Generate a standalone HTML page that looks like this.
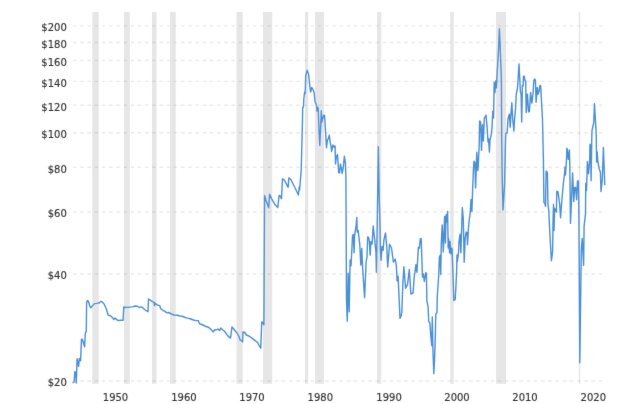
<!DOCTYPE html><html><head><meta charset="utf-8"><title>Crude Oil Prices</title><style>html,body{margin:0;padding:0;background:#fff;}body{width:640px;height:404px;overflow:hidden;}svg{display:block;}text{font-family:"DejaVu Sans","Liberation Sans",sans-serif;font-size:10px;fill:#333;stroke:#333;stroke-width:0.15px;}</style></head><body>
<svg width="640" height="404" viewBox="0 0 640 404">
<rect x="0" y="0" width="640" height="404" fill="#fff"/>
<defs><filter id="soft" x="0" y="0" width="640" height="404" filterUnits="userSpaceOnUse"><feConvolveMatrix order="3" kernelMatrix="0.00524 0.06192 0.00524 0.06192 0.73137 0.06192 0.00524 0.06192 0.00524" edgeMode="duplicate"/></filter></defs>
<g filter="url(#soft)">
<g fill="#e6e6e6">
<rect x="92.25" y="12.00" width="6.50" height="371.80"/>
<rect x="124.00" y="12.00" width="5.80" height="371.80"/>
<rect x="152.00" y="12.00" width="4.50" height="371.80"/>
<rect x="170.00" y="12.00" width="5.75" height="371.80"/>
<rect x="236.50" y="12.00" width="6.25" height="371.80"/>
<rect x="263.00" y="12.00" width="9.25" height="371.80"/>
<rect x="305.00" y="12.00" width="3.25" height="371.80"/>
<rect x="315.00" y="12.00" width="9.00" height="371.80"/>
<rect x="377.00" y="12.00" width="4.30" height="371.80"/>
<rect x="450.20" y="12.00" width="3.60" height="371.80"/>
<rect x="496.00" y="12.00" width="10.00" height="371.80"/>
<rect x="578.80" y="12.00" width="1.40" height="371.80"/>
</g>
<g stroke="#000" stroke-opacity="0.085" stroke-width="1.4" stroke-dasharray="3.4 3.8" fill="none">
<line x1="73.1" y1="25.90" x2="603" y2="25.90"/>
<line x1="73.1" y1="42.50" x2="603" y2="42.50"/>
<line x1="73.1" y1="60.40" x2="603" y2="60.40"/>
<line x1="73.1" y1="81.40" x2="603" y2="81.40"/>
<line x1="73.1" y1="105.30" x2="603" y2="105.30"/>
<line x1="73.1" y1="132.80" x2="603" y2="132.80"/>
<line x1="73.1" y1="167.30" x2="603" y2="167.30"/>
<line x1="73.1" y1="212.00" x2="603" y2="212.00"/>
<line x1="73.1" y1="274.00" x2="603" y2="274.00"/>
<line x1="73.1" y1="381.00" x2="603" y2="381.00"/>
</g>
<g text-anchor="end">
<text x="66.80" y="31">$200</text>
<text x="66.80" y="48">$180</text>
<text x="66.80" y="66">$160</text>
<text x="66.80" y="87">$140</text>
<text x="66.80" y="111">$120</text>
<text x="66.80" y="138">$100</text>
<text x="66.80" y="173">$80</text>
<text x="66.80" y="217">$60</text>
<text x="66.80" y="279">$40</text>
<text x="66.80" y="386">$20</text>
</g>
<g text-anchor="middle">
<text x="115.50" y="401.00">1950</text>
<text x="183.90" y="401.00">1960</text>
<text x="252.00" y="401.00">1970</text>
<text x="320.30" y="401.00">1980</text>
<text x="389.10" y="401.00">1990</text>
<text x="457.00" y="401.00">2000</text>
<text x="525.00" y="401.00">2010</text>
<text x="593.30" y="401.00">2020</text>
</g>
<path d="M73.10 382.60 L74.20 381.80 L74.80 371.80 L75.70 372.20 L76.30 383.00 L77.10 358.70 L78.60 366.30 L79.40 358.50 L80.60 360.80 L81.50 339.10 L82.40 339.40 L84.60 346.90 L85.30 333.10 L86.30 331.30 L86.60 302.40 L87.50 300.50 L88.40 301.50 L90.00 306.75 L91.00 307.75 L92.25 306.10 L94.40 303.60 L96.90 303.40 L99.40 302.75 L100.60 301.40 L102.25 302.00 L104.40 304.40 L106.25 308.75 L108.10 315.00 L110.00 315.60 L111.90 316.90 L113.75 319.40 L115.00 318.10 L118.10 320.60 L120.60 320.25 L123.10 320.40 L123.75 306.90 L125.00 307.50 L130.00 307.10 L132.50 306.90 L135.00 306.00 L137.50 306.25 L139.40 307.50 L141.90 306.90 L143.75 308.75 L145.60 310.25 L148.00 311.70 L148.50 299.00 L151.00 300.60 L152.90 301.90 L154.10 302.50 L154.50 305.60 L155.00 303.10 L157.25 305.00 L159.75 305.60 L160.75 308.75 L163.50 310.60 L167.25 312.90 L168.50 312.50 L171.00 313.75 L174.10 315.00 L177.25 315.25 L179.75 316.00 L182.25 316.25 L184.75 317.25 L187.25 318.10 L190.40 318.75 L193.50 320.00 L196.00 320.60 L198.25 320.60 L199.50 323.75 L202.25 324.75 L206.00 326.50 L208.50 327.25 L211.00 329.40 L213.25 331.90 L214.50 330.00 L216.60 329.75 L217.90 329.00 L219.50 330.60 L220.75 328.10 L222.90 330.00 L224.50 331.25 L227.60 335.60 L230.50 338.10 L232.00 326.90 L234.50 330.00 L237.00 333.10 L238.90 336.25 L240.10 340.00 L241.40 340.60 L242.60 341.90 L243.00 331.90 L244.50 332.25 L246.40 335.00 L248.90 336.00 L252.00 338.10 L255.10 340.60 L257.60 342.50 L259.50 346.25 L260.75 348.10 L261.75 321.90 L262.60 322.50 L263.90 325.00 L264.60 195.50 L265.90 199.90 L268.70 207.80 L269.60 194.30 L271.80 199.10 L275.00 204.60 L277.80 207.40 L279.00 195.90 L279.80 195.50 L281.50 198.70 L282.50 178.70 L284.50 180.30 L288.10 187.40 L288.90 177.90 L290.90 179.50 L293.20 184.30 L295.60 189.00 L298.40 195.00 L299.20 187.00 L299.60 189.80 L301.20 170.00 L302.50 120.00 L302.70 107.80 L303.40 107.00 L303.90 98.30 L304.70 92.00 L305.20 93.50 L305.70 76.00 L307.10 70.30 L308.10 72.70 L308.70 75.10 L309.80 86.10 L310.60 92.00 L311.80 87.50 L313.00 89.40 L314.20 92.75 L315.00 101.50 L316.20 104.60 L316.80 106.80 L317.00 111.00 L317.50 107.80 L318.20 107.80 L318.70 122.80 L319.75 145.40 L320.90 122.40 L321.30 110.60 L321.75 122.30 L322.50 119.50 L323.60 115.30 L324.60 115.75 L325.30 127.90 L326.50 147.70 L327.30 140.60 L328.10 139.00 L329.30 135.10 L330.10 142.20 L331.20 147.00 L331.50 151.50 L333.00 145.00 L334.20 147.20 L335.10 146.00 L335.50 164.00 L336.30 156.90 L337.50 154.50 L338.70 172.70 L339.60 172.70 L340.40 164.00 L341.50 168.80 L342.20 173.50 L343.30 167.20 L344.40 156.10 L345.40 163.20 L345.90 177.00 L346.50 300.00 L347.30 321.20 L348.20 273.30 L349.20 311.80 L350.10 260.00 L351.00 265.80 L352.60 235.30 L353.40 234.50 L354.10 252.70 L354.60 235.30 L356.20 225.00 L356.80 217.40 L357.20 232.10 L358.20 230.50 L359.80 244.80 L360.80 265.00 L361.75 248.40 L362.50 266.00 L364.60 297.70 L366.10 262.00 L367.00 256.70 L367.70 236.90 L368.50 237.30 L369.30 240.80 L370.20 255.10 L370.90 241.60 L372.10 244.00 L373.20 226.00 L374.80 240.80 L376.00 252.70 L376.40 272.30 L377.20 225.00 L378.35 146.80 L379.20 196.00 L380.00 225.00 L380.40 251.10 L381.10 260.20 L382.00 246.40 L383.10 250.40 L383.90 240.00 L385.50 232.90 L386.80 247.00 L387.70 267.00 L389.60 244.20 L391.50 248.00 L393.40 262.10 L395.20 259.20 L396.40 266.00 L397.10 280.80 L398.10 276.10 L400.00 318.40 L400.90 316.50 L401.80 312.80 L402.80 284.60 L403.90 266.70 L405.60 288.30 L407.50 284.60 L409.30 269.50 L410.90 294.00 L413.10 293.00 L414.10 278.00 L415.90 264.80 L416.90 272.30 L418.40 247.20 L419.40 248.10 L420.30 238.80 L421.20 238.80 L421.70 254.50 L422.50 277.00 L423.40 274.00 L424.30 281.50 L425.80 272.40 L426.40 274.00 L426.90 301.00 L428.10 307.20 L428.70 321.10 L429.90 323.10 L430.80 335.70 L431.80 345.60 L432.30 316.90 L432.80 346.00 L433.80 373.60 L434.50 360.20 L435.20 340.00 L435.80 314.00 L437.00 312.40 L437.30 296.20 L438.70 275.50 L439.40 257.00 L440.20 255.20 L440.70 274.50 L441.30 243.00 L442.20 225.00 L443.30 251.90 L444.60 216.50 L445.40 243.10 L446.00 215.30 L446.60 214.50 L446.90 222.00 L447.60 211.50 L448.20 248.00 L448.70 238.70 L449.60 252.80 L450.10 241.50 L451.00 253.80 L452.00 248.10 L452.90 271.60 L453.80 300.50 L455.20 299.50 L455.90 286.80 L456.60 272.70 L457.00 255.00 L457.40 261.30 L458.60 251.90 L459.00 241.50 L460.00 234.30 L460.90 252.80 L462.30 207.50 L463.30 218.80 L464.20 262.20 L465.20 237.80 L466.10 232.00 L467.00 232.50 L467.50 244.80 L468.50 227.30 L469.40 218.80 L470.30 211.80 L471.00 199.50 L471.90 211.50 L472.60 190.00 L473.50 168.00 L474.00 161.20 L474.90 162.60 L475.60 188.00 L476.80 152.20 L477.80 170.50 L478.20 166.30 L479.20 144.70 L479.60 120.90 L480.60 121.90 L481.50 150.30 L482.50 124.70 L483.40 141.00 L484.30 118.50 L486.00 115.10 L487.10 127.10 L488.00 142.00 L488.60 139.00 L489.40 152.10 L490.00 139.60 L491.10 135.60 L492.00 128.00 L492.80 111.10 L493.50 118.10 L494.20 82.30 L495.00 92.60 L495.80 80.80 L496.40 87.90 L497.00 76.00 L498.60 48.00 L499.40 28.80 L500.20 48.00 L501.40 80.00 L501.70 141.60 L502.20 177.60 L503.00 210.00 L504.50 186.00 L505.50 141.60 L505.80 133.40 L507.10 132.90 L508.00 118.80 L509.40 114.10 L510.20 127.30 L510.80 116.90 L511.80 102.80 L512.70 118.80 L513.90 131.00 L514.60 118.80 L515.50 109.40 L516.30 94.00 L517.50 88.00 L519.00 64.00 L520.40 91.50 L521.10 94.30 L521.70 122.00 L522.40 85.50 L523.10 86.00 L523.50 76.30 L524.30 76.30 L525.10 81.00 L525.70 81.00 L526.20 112.60 L527.40 94.30 L528.60 111.80 L529.40 111.80 L530.60 92.40 L531.80 103.10 L533.00 94.00 L533.80 81.00 L534.60 79.00 L535.40 80.20 L536.10 102.30 L537.30 87.40 L538.00 94.30 L539.00 91.50 L539.80 85.80 L540.60 85.40 L541.30 97.50 L542.50 119.70 L543.40 160.00 L543.90 202.60 L544.90 203.50 L545.50 206.30 L546.10 171.25 L546.60 171.25 L547.40 173.00 L547.90 203.50 L548.80 211.00 L549.80 232.80 L551.40 260.70 L552.60 251.60 L553.00 223.40 L553.50 204.50 L554.00 230.50 L554.60 208.20 L556.40 212.00 L556.80 191.30 L558.00 191.90 L559.60 203.50 L560.60 217.80 L561.50 204.50 L562.50 193.20 L563.50 182.00 L564.25 176.25 L565.10 166.90 L565.50 175.00 L566.50 159.40 L566.90 148.10 L567.40 150.00 L568.30 159.40 L569.40 150.00 L569.80 165.00 L570.50 223.40 L572.60 173.00 L573.30 190.00 L573.70 201.60 L574.70 187.50 L575.60 187.50 L576.60 199.80 L577.50 181.00 L578.40 181.00 L578.90 217.60 L579.80 362.70 L581.30 250.00 L582.20 238.50 L583.60 265.40 L584.10 226.20 L585.50 214.00 L585.75 183.50 L586.50 190.50 L587.40 161.50 L588.50 173.80 L589.70 160.00 L590.00 144.40 L590.60 144.40 L591.10 180.70 L591.60 150.00 L591.90 131.25 L593.75 122.50 L594.50 103.75 L596.25 135.00 L596.60 162.00 L597.20 152.00 L597.80 161.50 L599.30 169.20 L600.40 172.30 L601.00 191.50 L602.25 180.00 L602.70 167.70 L603.40 147.50 L604.30 171.50 L604.75 184.50" fill="none" stroke="#4a8fd6" stroke-width="1.4" stroke-linejoin="round" stroke-linecap="round"/>
</g>
</svg></body></html>
